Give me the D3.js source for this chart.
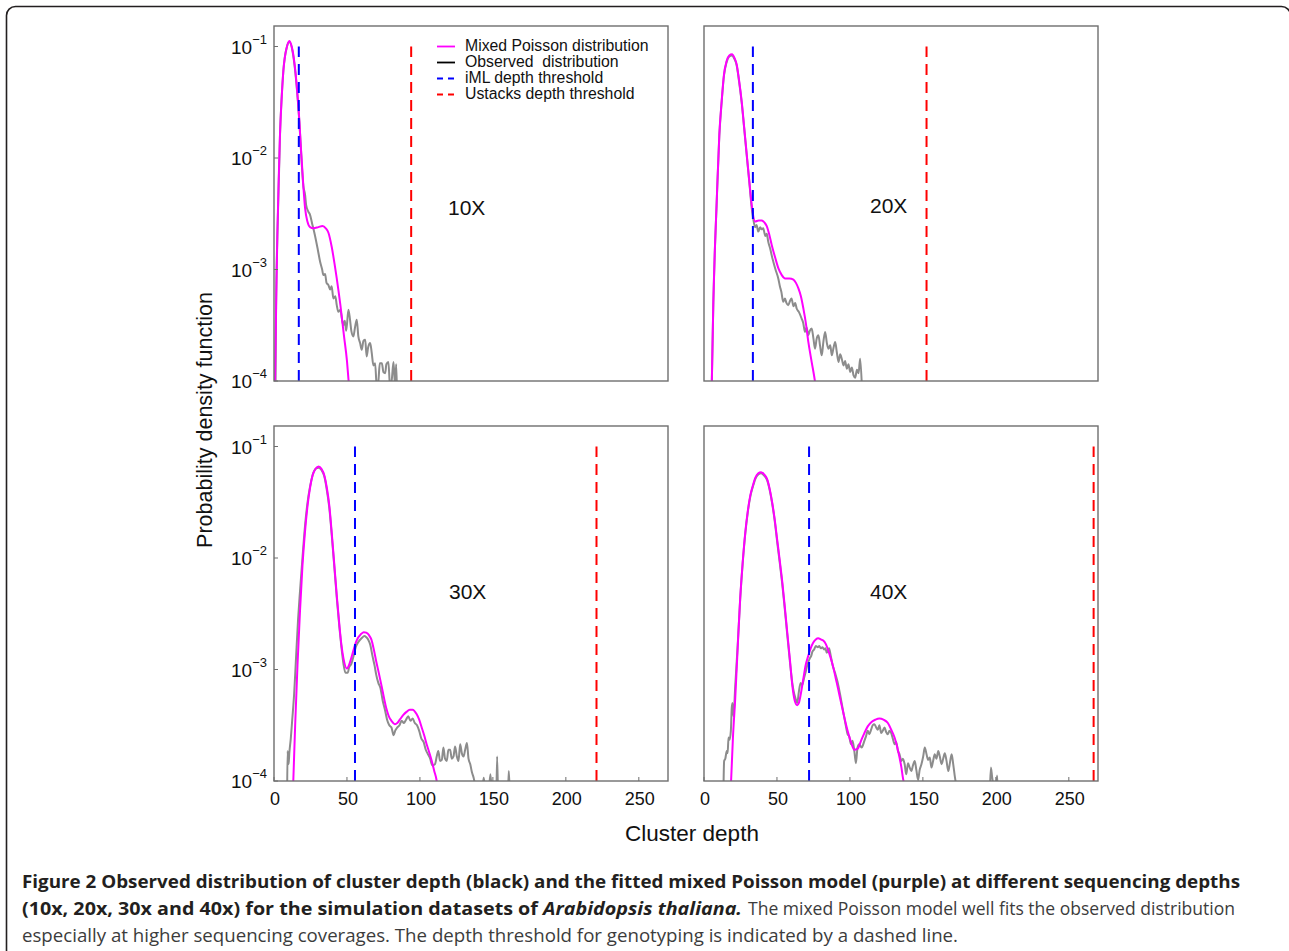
<!DOCTYPE html>
<html>
<head>
<meta charset="utf-8">
<script src="https://cdn.jsdelivr.net/npm/d3@7"></script>
<style>
  body { margin: 0; background: #fff; }
  svg { display: block; }
</style>
</head>
<body>
<svg id="fig" width="1289" height="951"></svg>
<script>
// cluster depth vs log10(pdf)
const panelNames = ["10X", "20X", "30X", "40X"];
const imlThreshold = [17, 33.5, 55.5, 72];
const ustacksThreshold = [94, 152.5, 221, 267];
const xTicks = [0, 50, 100, 150, 200, 250];
const yTickExp = [-1, -2, -3, -4];

const fit10 = [[0.7,-4.05],[1.5,-3.3],[2.3,-2.69],[3.2,-2.2],[4.1,-1.79],[5.2,-1.48],[6.4,-1.22],[7.5,-1.09],[8.7,-1.01],[10.5,-0.95],[11.7,-0.98],[12.8,-1.04],[14.2,-1.17],[15.5,-1.34],[17.4,-1.67],[18.3,-1.88],[20.1,-2.25],[21.3,-2.45],[22.9,-2.57],[24.7,-2.62],[27,-2.63],[30.4,-2.62],[33.2,-2.61],[35.5,-2.63],[37.3,-2.67],[39.6,-2.8],[41.5,-2.95],[43,-3.08],[45.5,-3.32],[48,-3.6],[50,-3.82],[51,-3.98],[51.5,-4.05]];
const obs10 = [[1,-4.1],[1.4,-3.34],[2.3,-2.7],[4.1,-1.8],[6.4,-1.22],[8.7,-1.01],[10.5,-0.96],[12.8,-1.05],[15.5,-1.35],[17.4,-1.68],[19,-2.05],[20.1,-2.25],[21.3,-2.33],[22,-2.42],[23.5,-2.48],[24.7,-2.51],[26,-2.58],[28,-2.69],[30,-2.82],[31.6,-2.93],[33,-3.0],[33.8,-3.05],[35,-3.04],[36,-3.12],[37.3,-3.14],[38.5,-3.18],[39.5,-3.15],[40.7,-3.26],[42,-3.24],[43,-3.32],[44.1,-3.38],[45.5,-3.36],[46.5,-3.44],[47.5,-3.5],[48.5,-3.46],[49.5,-3.55],[51,-3.36],[52.1,-3.45],[53,-3.55],[54.4,-3.6],[55.5,-3.52],[56.7,-3.45],[57.8,-3.6],[59,-3.66],[60.1,-3.72],[61.3,-3.64],[62.5,-3.63],[63.5,-3.78],[64.5,-3.7],[65.9,-3.66],[67,-3.75],[68.1,-3.86],[69.3,-3.84],[70.4,-4.05],[71.6,-3.99],[72.5,-3.84],[73.9,-3.84],[75,-3.92],[76.2,-3.93],[77,-3.85],[78.4,-3.83],[79.5,-4.05],[80.7,-3.99],[81.9,-3.83],[83,-4.05],[83.7,-3.85],[84.2,-4.05]];

const fit20 = [[5.3,-4.05],[6.4,-3.29],[7.5,-2.8],[8.7,-2.39],[10.5,-1.79],[12.1,-1.49],[13.7,-1.25],[15.5,-1.13],[17.3,-1.08],[19.2,-1.07],[20.8,-1.1],[22.4,-1.16],[24,-1.3],[25.8,-1.49],[27.5,-1.72],[29.3,-1.97],[31,-2.2],[32.7,-2.42],[35,-2.57],[37.5,-2.56],[39.5,-2.56],[41.5,-2.58],[43,-2.61],[44.8,-2.69],[46.4,-2.78],[48.7,-2.89],[51,-2.99],[53.3,-3.05],[55.6,-3.08],[58.5,-3.08],[61.3,-3.09],[63,-3.12],[64.7,-3.17],[66.4,-3.24],[68.1,-3.35],[69.8,-3.48],[71.5,-3.65],[73.8,-3.83],[76,-4.0],[76.5,-4.05]];
const obs20 = [[5.3,-4.05],[6.4,-3.3],[8.7,-2.4],[10.5,-1.8],[12.1,-1.5],[13.7,-1.26],[15.5,-1.14],[17.3,-1.09],[19.2,-1.08],[20.8,-1.11],[22.4,-1.17],[24,-1.31],[25.8,-1.5],[27.5,-1.73],[29.3,-1.98],[31,-2.21],[32.7,-2.45],[33.8,-2.55],[35,-2.62],[36,-2.6],[37.2,-2.66],[38.5,-2.62],[39.5,-2.64],[40.6,-2.63],[42,-2.7],[43,-2.68],[44,-2.75],[45.5,-2.82],[46.5,-2.88],[47.5,-2.93],[49,-3.0],[50.9,-3.08],[52,-3.15],[53,-3.2],[54.3,-3.29],[55.5,-3.26],[56.5,-3.3],[57.7,-3.32],[59,-3.28],[60,-3.26],[61.3,-3.33],[62.5,-3.3],[63.5,-3.35],[65,-3.38],[66.9,-3.44],[68,-3.48],[69.2,-3.56],[70.3,-3.52],[71.5,-3.59],[72.5,-3.55],[73.8,-3.53],[75,-3.62],[76.1,-3.71],[77.2,-3.62],[78.4,-3.59],[79.5,-3.68],[80.7,-3.77],[81.8,-3.65],[83,-3.56],[84.2,-3.66],[85.3,-3.71],[86.5,-3.68],[87.6,-3.77],[88.8,-3.7],[89.9,-3.65],[91,-3.74],[92.2,-3.83],[93.3,-3.76],[94.4,-3.8],[95.6,-3.86],[96.7,-3.82],[97.9,-3.89],[99,-3.85],[100.2,-3.92],[101.3,-3.88],[102.5,-3.95],[103.6,-3.97],[104.8,-3.9],[105.9,-3.93],[107,-3.8],[108.2,-4.05]];

const fit30 = [[13.1,-4.05],[14.5,-3.5],[16.1,-2.96],[17.8,-2.48],[19.5,-2.07],[21.2,-1.77],[23,-1.53],[24.7,-1.37],[26.4,-1.26],[28.5,-1.2],[30.6,-1.18],[32.5,-1.2],[34.5,-1.26],[36.2,-1.37],[37.9,-1.53],[39.6,-1.78],[41.4,-2.07],[43.1,-2.35],[44.8,-2.6],[46.2,-2.78],[47.6,-2.9],[49.9,-2.99],[51.4,-2.96],[52.9,-2.9],[54.6,-2.82],[56.3,-2.75],[59.8,-2.68],[61.5,-2.665],[63.2,-2.67],[65,-2.69],[66.7,-2.73],[68.4,-2.82],[70.1,-2.93],[71.8,-3.03],[73.6,-3.14],[75.3,-3.25],[77,-3.35],[78.7,-3.42],[80.5,-3.46],[82.8,-3.49],[84.5,-3.48],[86.2,-3.45],[88.5,-3.41],[90.8,-3.38],[93,-3.36],[95,-3.36],[97.7,-3.4],[99.5,-3.45],[101.2,-3.52],[102.9,-3.59],[104.6,-3.67],[106.3,-3.74],[108.1,-3.82],[109.8,-3.91],[111.5,-4.0],[112,-4.05]];
const obs30 = [[9,-4.1],[9.3,-3.73],[10,-3.85],[10.5,-3.75],[11.5,-3.62],[12.5,-3.45],[13.8,-3.22],[15,-2.92],[16.5,-2.55],[17.8,-2.3],[19.5,-2.0],[21.2,-1.72],[23,-1.5],[24.7,-1.36],[26.4,-1.26],[28.5,-1.2],[30.6,-1.19],[32.5,-1.21],[34.5,-1.27],[36.2,-1.39],[37.9,-1.55],[39.6,-1.8],[41.4,-2.09],[43.1,-2.37],[44.8,-2.62],[46.2,-2.8],[47.6,-2.95],[49,-3.03],[50.5,-3.03],[51.5,-2.98],[53,-2.95],[54.5,-2.88],[56,-2.8],[58,-2.75],[60,-2.72],[62,-2.7],[63.2,-2.71],[64.5,-2.73],[66,-2.78],[67.5,-2.88],[69,-2.97],[70.1,-3.05],[71.5,-3.12],[73,-3.17],[74.5,-3.28],[76,-3.36],[77.5,-3.45],[79,-3.5],[80.5,-3.52],[82,-3.59],[83,-3.55],[84.5,-3.52],[86,-3.5],[87.5,-3.46],[89,-3.48],[90.5,-3.45],[92,-3.42],[93.5,-3.46],[95,-3.44],[96.5,-3.48],[98,-3.5],[99.5,-3.55],[101,-3.62],[102.5,-3.65],[104,-3.72],[105.5,-3.76],[107,-3.8],[108.5,-3.86],[110.3,-3.85],[111.5,-3.78],[112.6,-3.73],[113.8,-3.82],[115,-3.81],[116.1,-3.7],[117.2,-3.8],[118.4,-3.82],[119.5,-3.72],[120.7,-3.72],[121.8,-3.8],[123,-3.78],[124.1,-3.69],[125.3,-3.78],[126.4,-3.82],[127.6,-3.67],[128.7,-3.75],[129.9,-3.78],[131,-3.72],[132.2,-3.66],[133.3,-3.8],[134.5,-3.85],[135.6,-3.92],[136.8,-3.97],[138,-4.05],[140,null],[143,-4.05],[143.7,-3.97],[144.5,-4.05],[146,null],[147.5,-4.05],[148.3,-3.94],[149,-4.05],[151,null],[152.5,-4.05],[152.9,-3.78],[153.4,-4.05],[157,null],[160.5,-4.05],[160.9,-3.91],[161.4,-4.05]];

const fit40 = [[18.4,-4.05],[19.8,-3.62],[21.4,-3.26],[23.1,-2.8],[24.8,-2.36],[26.5,-2.04],[28.3,-1.77],[30,-1.58],[31.7,-1.44],[33.5,-1.35],[35.2,-1.28],[37.2,-1.24],[39.1,-1.23],[41.2,-1.25],[43.2,-1.29],[45,-1.38],[46.7,-1.5],[48.4,-1.65],[50.1,-1.83],[51.8,-2.01],[53.6,-2.21],[55.3,-2.43],[57,-2.66],[58.8,-2.9],[60.5,-3.14],[62.2,-3.28],[63.9,-3.32],[65,-3.3],[66.2,-3.23],[68,-3.09],[69.7,-2.96],[71.4,-2.88],[73.1,-2.81],[74.8,-2.76],[76.6,-2.73],[78.3,-2.72],[80,-2.73],[81.7,-2.74],[83.4,-2.77],[85.2,-2.83],[86.9,-2.9],[88.6,-2.98],[90.3,-3.08],[92,-3.18],[93.8,-3.29],[96,-3.42],[98.4,-3.55],[100.7,-3.65],[103,-3.72],[105.3,-3.71],[107.6,-3.64],[109.9,-3.57],[112.2,-3.51],[114.8,-3.47],[117.5,-3.45],[120.2,-3.44],[123,-3.45],[126,-3.48],[128.3,-3.54],[130.6,-3.61],[132.3,-3.69],[134,-3.79],[135.3,-3.88],[136.3,-3.97],[137.5,-4.05]];
const obs40 = [[13.3,-4.1],[13.8,-3.82],[14.6,-3.8],[15.6,-3.73],[16.2,-3.75],[16.8,-3.61],[17.5,-3.63],[18.4,-3.55],[19,-3.35],[19.5,-3.3],[20.2,-3.42],[21.4,-3.15],[23.1,-2.78],[24.8,-2.37],[26.5,-2.05],[28.3,-1.78],[30,-1.59],[31.7,-1.45],[33.5,-1.36],[35.2,-1.29],[37.2,-1.25],[39.1,-1.24],[41.2,-1.26],[43.2,-1.3],[45,-1.39],[46.7,-1.51],[48.4,-1.66],[50.1,-1.85],[51.8,-2.03],[53.6,-2.23],[55.3,-2.45],[57,-2.68],[58.8,-2.92],[60.5,-3.12],[61.5,-3.2],[62.5,-3.25],[63.9,-3.3],[65,-3.2],[66.2,-3.12],[67.3,-3.14],[68.5,-3.08],[69.7,-3.02],[70.8,-2.96],[72.5,-2.9],[73.4,-2.88],[74.3,-2.84],[75.5,-2.82],[76.6,-2.79],[78,-2.8],[79,-2.79],[80,-2.81],[81.2,-2.8],[82.3,-2.82],[83.2,-2.81],[84.1,-2.85],[85.7,-2.81],[86.9,-2.88],[88.1,-2.96],[89.8,-3.03],[91.5,-3.11],[93.2,-3.22],[95,-3.35],[96.7,-3.47],[98.4,-3.58],[99.5,-3.6],[100.7,-3.67],[101.8,-3.64],[103,-3.73],[104.1,-3.84],[105.2,-3.7],[106.4,-3.67],[108,-3.7],[109.9,-3.64],[111,-3.6],[112.2,-3.55],[113.3,-3.58],[114.5,-3.54],[115.6,-3.5],[116.8,-3.49],[118,-3.52],[119.1,-3.54],[120.2,-3.5],[121.4,-3.57],[122.5,-3.55],[123.7,-3.52],[124.8,-3.56],[126,-3.58],[127.1,-3.55],[128.3,-3.57],[129.4,-3.62],[130.6,-3.67],[131.7,-3.65],[132.9,-3.73],[134,-3.76],[135.2,-3.82],[136.3,-3.8],[137.5,-3.85],[138.6,-3.94],[139.8,-3.84],[141,-3.88],[142.1,-3.91],[143.2,-3.86],[144.4,-3.82],[145.5,-3.9],[146.7,-3.99],[147.8,-3.9],[149,-3.85],[150.2,-3.78],[151.3,-3.7],[152.5,-3.76],[153.6,-3.81],[154.7,-3.79],[155.9,-3.88],[157,-3.82],[158.1,-3.76],[159.3,-3.8],[160.5,-3.73],[161.6,-3.78],[162.8,-3.85],[163.9,-3.8],[165,-3.75],[166.2,-3.82],[167.4,-3.91],[168.5,-3.84],[169.7,-3.76],[170.8,-3.85],[172,-3.97],[173.1,-4.05],[180,null],[196,-4.05],[196.6,-3.88],[197.5,-3.97],[198.5,-4.05],[199.5,null],[200.5,-4.05],[200.8,-3.95],[201.2,-4.05]];

const fitted = [fit10, fit20, fit30, fit40];
const observed = [obs10, obs20, obs30, obs40];

const legendNames = ["Mixed Poisson distribution", "Observed  distribution", "iML depth threshold", "Ustacks depth threshold"];
const legendColors = ["#ff00ff", "#000000", "#0000ff", "#ff0000"];
const legendDashed = [false, false, true, true];

// layout
const panels = [
  { x: 274, y: 26, yLabels: true, xLabels: false, name: [174, 183] },
  { x: 704, y: 26, yLabels: false, xLabels: false, name: [166, 181] },
  { x: 274, y: 426, yLabels: true, xLabels: true, name: [175, 167] },
  { x: 704, y: 426, yLabels: false, xLabels: true, name: [166, 167] }
];
const PW = 394, PH = 355;
const FONT = "Liberation Sans, Arial, sans-serif";

const svg = d3.select("#fig");

// outer rounded frame
svg.append("rect")
  .attr("x", 6.5).attr("y", 6.5)
  .attr("width", 1284).attr("height", 1000)
  .attr("rx", 9)
  .attr("fill", "none")
  .attr("stroke", "#231f20")
  .attr("stroke-width", 1.6);

const x = d3.scaleLinear().domain([0, 270]).range([0, PW]);
const y = d3.scaleLog().domain([1e-4, Math.pow(10, -0.816)]).range([PH, 0]);

const line = d3.line()
  .defined(d => d[1] !== null)
  .x(d => x(d[0]))
  .y(d => y(Math.pow(10, d[1])))
  .curve(d3.curveMonotoneX);

const defs = svg.append("defs");

panels.forEach((p, i) => {
  const g = svg.append("g").attr("transform", `translate(${p.x},${p.y})`);

  defs.append("clipPath").attr("id", "clip" + i)
    .append("rect").attr("width", PW).attr("height", PH);

  const plot = g.append("g").attr("clip-path", `url(#clip${i})`);

  // observed distribution (grey)
  plot.append("path")
    .attr("d", line(observed[i]))
    .attr("fill", "none")
    .attr("stroke", "#8c8c8c")
    .attr("stroke-width", 2)
    .attr("stroke-linejoin", "round");

  // fitted mixed Poisson (magenta)
  plot.append("path")
    .attr("d", line(fitted[i]))
    .attr("fill", "none")
    .attr("stroke", "#ff00ff")
    .attr("stroke-width", 2);

  // thresholds
  [[imlThreshold[i], "#0000ff"], [ustacksThreshold[i], "#ff0000"]].forEach(([t, c]) => {
    plot.append("line")
      .attr("x1", x(t)).attr("x2", x(t))
      .attr("y1", y(1e-4)).attr("y2", y(1e-1))
      .attr("stroke", c)
      .attr("stroke-width", 2)
      .attr("stroke-dasharray", "11,7");
  });

  // frame
  g.append("rect")
    .attr("width", PW).attr("height", PH)
    .attr("fill", "none")
    .attr("stroke", "#6e6e6e")
    .attr("stroke-width", 1.4);

  // y ticks
  if (p.yLabels) {
    yTickExp.forEach(e => {
      const yy = y(Math.pow(10, e));
      g.append("line")
        .attr("x1", 0).attr("x2", 4)
        .attr("y1", yy).attr("y2", yy)
        .attr("stroke", "#6e6e6e");
      const t = g.append("text")
        .attr("x", -7).attr("y", yy + 7)
        .attr("text-anchor", "end")
        .style("font-family", FONT)
        .style("font-size", "19px")
        .attr("fill", "#111");
      t.append("tspan").text("10");
      t.append("tspan")
        .attr("dy", -10)
        .style("font-size", "13px")
        .text("\u2212" + Math.abs(e));
    });
  }

  // x ticks
  if (p.xLabels) {
    xTicks.forEach(v => {
      g.append("line")
        .attr("x1", x(v)).attr("x2", x(v))
        .attr("y1", PH).attr("y2", PH - 4)
        .attr("stroke", "#6e6e6e");
      g.append("text")
        .attr("x", x(v) + 1).attr("y", PH + 24)
        .attr("text-anchor", "middle")
        .style("font-family", FONT)
        .style("font-size", "18px")
        .attr("fill", "#111")
        .text(v);
    });
  }

  // coverage label
  g.append("text")
    .attr("x", p.name[0]).attr("y", p.name[1])
    .attr("dominant-baseline", "middle")
    .style("font-family", FONT)
    .style("font-size", "21px")
    .attr("fill", "#111")
    .text(panelNames[i]);
});

// legend (top-left panel)
const leg = svg.append("g");
legendNames.forEach((name, k) => {
  const yy = 46.5 + k * 16;
  leg.append("line")
    .attr("x1", 437).attr("x2", 455)
    .attr("y1", yy).attr("y2", yy)
    .attr("stroke", legendColors[k])
    .attr("stroke-width", 1.8)
    .attr("stroke-dasharray", legendDashed[k] ? "6,5" : null);
  leg.append("text")
    .attr("x", 465).attr("y", yy)
    .attr("dominant-baseline", "middle")
    .style("font-family", FONT)
    .style("font-size", "15.8px")
    .style("white-space", "pre")
    .attr("fill", "#111")
    .text(name);
});

// axis titles
svg.append("text")
  .attr("transform", "translate(212,420) rotate(-90)")
  .attr("text-anchor", "middle")
  .style("font-family", FONT)
  .style("font-size", "21.5px")
  .attr("fill", "#111")
  .text("Probability density function");

svg.append("text")
  .attr("x", 692).attr("y", 841)
  .attr("text-anchor", "middle")
  .style("font-family", FONT)
  .style("font-size", "22.5px")
  .attr("fill", "#111")
  .text("Cluster depth");

// caption
const CAP = "Open Sans, Noto Sans, sans-serif";
function capText(xp, yp, len, txt, weight, style, color) {
  return svg.append("text")
    .attr("x", xp).attr("y", yp)
    .attr("textLength", len)
    .attr("lengthAdjust", "spacingAndGlyphs")
    .style("font-family", CAP)
    .style("font-size", "18.5px")
    .style("font-weight", weight)
    .style("font-style", style)
    .attr("fill", color)
    .text(txt);
}
capText(22, 888, 1218, "Figure 2 Observed distribution of cluster depth (black) and the fitted mixed Poisson model (purple) at different sequencing depths", "bold", "normal", "#231f20");
const l2 = svg.append("text")
  .attr("x", 22).attr("y", 915)
  .attr("textLength", 720)
  .attr("lengthAdjust", "spacingAndGlyphs")
  .style("font-family", CAP)
  .style("font-size", "18.5px")
  .style("font-weight", "bold")
  .attr("fill", "#231f20");
l2.append("tspan").text("(10x, 20x, 30x and 40x) for the simulation datasets of ");
l2.append("tspan").style("font-style", "italic").text("Arabidopsis thaliana.");
capText(748, 915, 487, "The mixed Poisson model well fits the observed distribution", "normal", "normal", "#3c3c3c");
capText(22, 942, 936, "especially at higher sequencing coverages. The depth threshold for genotyping is indicated by a dashed line.", "normal", "normal", "#3c3c3c");
</script>
</body>
</html>
